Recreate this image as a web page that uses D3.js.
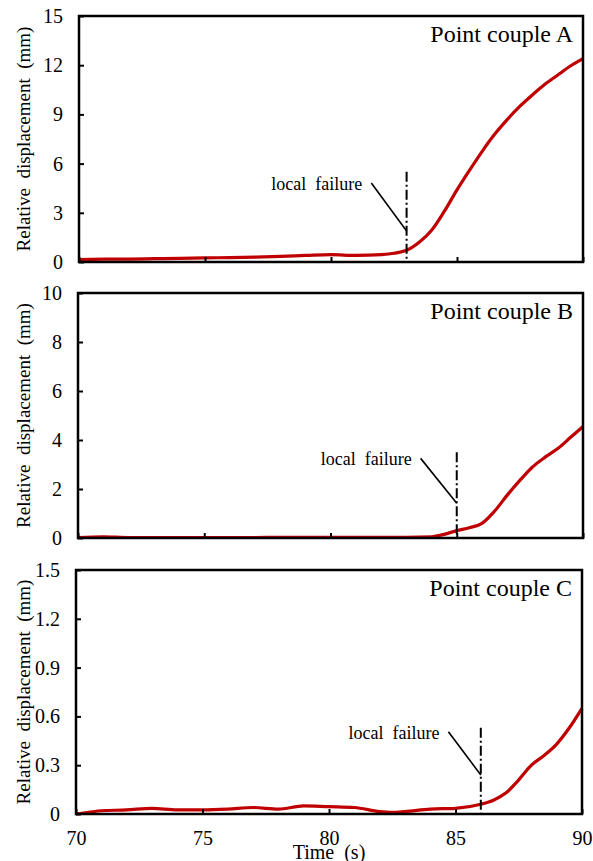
<!DOCTYPE html>
<html>
<head>
<meta charset="utf-8">
<script src="https://cdn.jsdelivr.net/npm/d3@7"></script>
<style>
  html, body { margin: 0; padding: 0; background: #fff; }
  svg { display: block; }
</style>
</head>
<body>
<svg id="chart" width="593" height="861"></svg>
<script>
// Relative displacement histories of three monitored point couples
const timeA = [70, 71, 72, 73, 74, 75, 76, 77, 78, 79, 80, 81, 82, 83, 83.5, 84, 84.5, 85, 85.5, 86, 86.5, 87, 87.5, 88, 88.5, 89, 89.5, 90];
const dispA = [0.15, 0.17, 0.18, 0.2, 0.22, 0.25, 0.27, 0.3, 0.34, 0.4, 0.45, 0.4, 0.45, 0.72, 1.2, 1.95, 3.1, 4.4, 5.6, 6.75, 7.8, 8.7, 9.5, 10.2, 10.85, 11.4, 11.95, 12.4];

const timeB = [70, 71, 72, 73, 74, 75, 76, 77, 78, 79, 80, 81, 82, 83, 84, 84.5, 85, 85.5, 86, 86.5, 87, 87.5, 88, 88.5, 89, 89.5, 90];
const dispB = [0.02, 0.05, 0.02, 0.02, 0.02, 0.02, 0.02, 0.02, 0.03, 0.03, 0.03, 0.03, 0.03, 0.03, 0.05, 0.15, 0.3, 0.42, 0.6, 1.1, 1.75, 2.35, 2.9, 3.3, 3.65, 4.1, 4.55];

const timeC = [70, 70.5, 71, 72, 73, 74, 75, 76, 77, 78, 79, 80, 81, 82, 82.5, 83, 84, 85, 86, 86.5, 87, 87.5, 88, 88.5, 89, 89.5, 90];
const dispC = [0.0, 0.01, 0.02, 0.025, 0.035, 0.025, 0.025, 0.03, 0.04, 0.03, 0.05, 0.045, 0.04, 0.015, 0.01, 0.015, 0.03, 0.035, 0.06, 0.085, 0.13, 0.21, 0.3, 0.36, 0.43, 0.53, 0.65];

// Axis ticks
const timeTicks = [70, 75, 80, 85, 90];
const ticksA = [0, 3, 6, 9, 12, 15];
const ticksB = [0, 2, 4, 6, 8, 10];
const ticksC = [0, 0.3, 0.6, 0.9, 1.2, 1.5];
const tickLabelsC = ["0", "0.3", "0.6", "0.9", "1.2", "1.5"];

// Panel titles and local-failure annotations (time of failure, marker top, leader start)
const panelTitles = ["Point couple A", "Point couple B", "Point couple C"];
const failureTime = [83, 85, 86];
const failureTop = [5.5, 3.5, 0.53];
const leaderStartT = [81.6, 83.57, 84.72];
const leaderStartV = [4.82, 3.25, 0.506];
const leaderEndV = [1.89, 1.42, 0.24];

const SERIF = "'Liberation Serif', 'Times New Roman', Tinos, 'DejaVu Serif', serif";

const panels = [
  { t: timeA, v: dispA, ticks: ticksA, labels: ticksA.map(String), max: 15, box: { left: 79, right: 583, top: 16, bottom: 262 } },
  { t: timeB, v: dispB, ticks: ticksB, labels: ticksB.map(String), max: 10, box: { left: 78, right: 583, top: 293, bottom: 538 } },
  { t: timeC, v: dispC, ticks: ticksC, labels: tickLabelsC, max: 1.5, box: { left: 76, right: 582, top: 570, bottom: 814 } }
];

const svg = d3.select("#chart");

panels.forEach((p, i) => {
  const b = p.box;
  const x = d3.scaleLinear().domain([70, 90]).range([b.left, b.right]);
  const y = d3.scaleLinear().domain([0, p.max]).range([b.bottom, b.top]);
  const g = svg.append("g");

  // Displacement curve
  const line = d3.line()
    .x(d => x(d[0]))
    .y(d => y(d[1]))
    .curve(d3.curveMonotoneX);
  g.append("path")
    .datum(p.t.map((t, k) => [t, p.v[k]]))
    .attr("d", line)
    .attr("fill", "none")
    .attr("stroke", "#c00000")
    .attr("stroke-width", 3.2)
    .attr("stroke-linejoin", "round");

  // Left axis with inward ticks
  const yAxis = d3.axisLeft(y).tickValues(p.ticks)
    .tickFormat((d, k) => p.labels[k])
    .tickSizeInner(-5).tickSizeOuter(0).tickPadding(16);
  const ya = g.append("g").attr("transform", `translate(${b.left},0)`).call(yAxis);
  ya.select(".domain").remove();
  ya.selectAll(".tick line").attr("stroke", "#000").attr("stroke-width", 2);
  ya.selectAll(".tick text")
    .style("font-family", SERIF)
    .style("font-size", "20px")
    .attr("fill", "#000");

  // Bottom axis with inward ticks (labels only on the lowest panel)
  const xAxis = d3.axisBottom(x).tickValues(timeTicks)
    .tickSizeInner(-5).tickSizeOuter(0).tickPadding(17);
  if (i < 2) xAxis.tickFormat("");
  const xa = g.append("g").attr("transform", `translate(0,${b.bottom})`).call(xAxis);
  xa.select(".domain").remove();
  xa.selectAll(".tick line").attr("stroke", "#000").attr("stroke-width", 2);
  xa.selectAll(".tick text")
    .style("font-family", SERIF)
    .style("font-size", "20px")
    .attr("fill", "#000");

  // Plot frame
  g.append("rect")
    .attr("x", b.left).attr("y", b.top)
    .attr("width", b.right - b.left).attr("height", b.bottom - b.top)
    .attr("fill", "none").attr("stroke", "#000").attr("stroke-width", 2.5);

  // Y axis title
  g.append("text")
    .attr("transform", `translate(23,${(b.top + b.bottom) / 2}) rotate(-90)`)
    .attr("text-anchor", "middle")
    .attr("dominant-baseline", "central")
    .style("font-family", SERIF)
    .style("font-size", "19px")
    .style("white-space", "pre")
    .text("Relative  displacement  (mm)");

  // Panel title
  g.append("text")
    .attr("x", b.right - 10).attr("y", b.top + 26)
    .attr("text-anchor", "end")
    .style("font-family", SERIF)
    .style("font-size", "24px")
    .text(panelTitles[i]);

  // Local failure marker: dash-dot vertical line
  g.append("line")
    .attr("x1", x(failureTime[i])).attr("x2", x(failureTime[i]))
    .attr("y1", y(failureTop[i])).attr("y2", b.bottom)
    .attr("stroke", "#000").attr("stroke-width", 2)
    .attr("stroke-dasharray", "10,3,2,3");

  // Leader line and label
  g.append("line")
    .attr("x1", x(leaderStartT[i])).attr("y1", y(leaderStartV[i]))
    .attr("x2", x(failureTime[i])).attr("y2", y(leaderEndV[i]))
    .attr("stroke", "#000").attr("stroke-width", 1.6);
  g.append("text")
    .attr("x", x(leaderStartT[i]) - 9).attr("y", y(leaderStartV[i]) + 7)
    .attr("text-anchor", "end")
    .style("font-family", SERIF)
    .style("font-size", "18px")
    .style("white-space", "pre")
    .text("local  failure");
});

// X axis title
svg.append("text")
  .attr("x", 329).attr("y", 859)
  .attr("text-anchor", "middle")
  .style("font-family", SERIF)
  .style("font-size", "20px")
  .style("white-space", "pre")
  .text("Time  (s)");
</script>
</body>
</html>
